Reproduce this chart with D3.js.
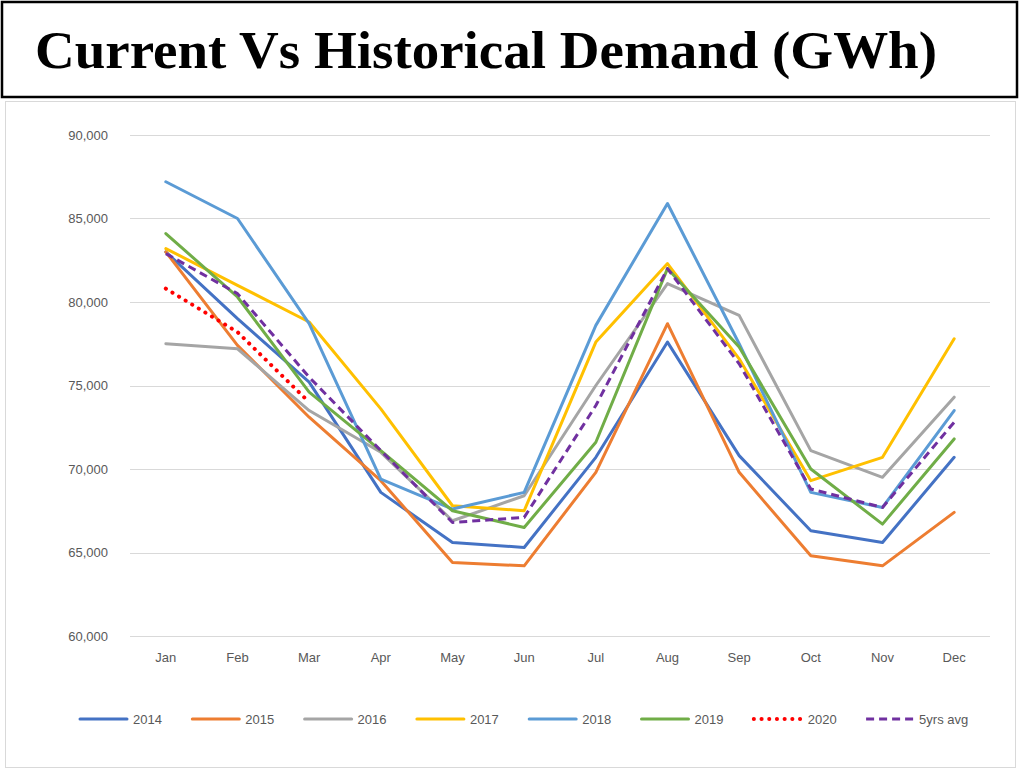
<!DOCTYPE html>
<html>
<head>
<meta charset="utf-8">
<script src="https://d3js.org/d3.v7.min.js"></script>
<style>
  body { margin: 0; background: #fff; }
  svg { display: block; }
</style>
</head>
<body>
<div id="chart"></div>
<script>
// months on the x axis
const months = ["Jan","Feb","Mar","Apr","May","Jun","Jul","Aug","Sep","Oct","Nov","Dec"];
const yTicks = [60000, 65000, 70000, 75000, 80000, 85000, 90000];

// demand in GWh
const y2014 = [83000, 79000, 75200, 68600, 65600, 65300, 70700, 77600, 70800, 66300, 65600, 70700];
const y2015 = [83000, 77400, 73100, 69300, 64400, 64200, 69800, 78700, 69800, 64800, 64200, 67400];
const y2016 = [77500, 77200, 73500, 71000, 66900, 68400, 75000, 81100, 79200, 71100, 69500, 74300];
const y2017 = [83200, 81000, 78800, 73600, 67800, 67500, 77600, 82300, 76600, 69300, 70700, 77800];
const y2018 = [87200, 85000, 78700, 69400, 67600, 68600, 78600, 85900, 77500, 68600, 67700, 73500];
const y2019 = [84100, 80300, 74600, 71100, 67500, 66500, 71600, 82000, 77300, 70000, 66700, 71800];
const y2020 = [80800, 78200, 74000];
const avg5 = [82900, 80500, 75500, 71100, 66800, 67100, 73800, 82000, 76300, 68800, 67700, 72800];

const series = [
  {name: "2014", values: y2014, color: "#4472C4"},
  {name: "2015", values: y2015, color: "#ED7D31"},
  {name: "2016", values: y2016, color: "#A5A5A5"},
  {name: "2017", values: y2017, color: "#FFC000"},
  {name: "2018", values: y2018, color: "#5B9BD5"},
  {name: "2019", values: y2019, color: "#70AD47"},
  {name: "2020", values: y2020, color: "#FF0000", dash: "0.1 7.6", cap: "round", w: 4},
  {name: "5yrs avg", values: avg5, color: "#7030A0", dash: "8 5", cap: "butt"}
];

const W = 1021, H = 770;
const svg = d3.select("#chart").append("svg")
    .attr("width", W).attr("height", H);

// title box
svg.append("rect")
    .attr("x", 2).attr("y", 2).attr("width", 1015).attr("height", 95)
    .attr("fill", "#fff").attr("stroke", "#000").attr("stroke-width", 2.5);
svg.append("text")
    .attr("x", 35).attr("y", 68)
    .attr("font-family", "Liberation Serif, Times New Roman, serif")
    .attr("font-weight", "bold").attr("font-size", 52)
    .attr("textLength", 902).attr("lengthAdjust", "spacingAndGlyphs")
    .text("Current Vs Historical Demand (GWh)");

// chart area frame
svg.append("rect")
    .attr("x", 5.5).attr("y", 101.5).attr("width", 1010).attr("height", 666)
    .attr("fill", "#fff").attr("stroke", "#D9D9D9").attr("stroke-width", 1);

const x = d3.scaleBand().domain(months).range([130, 990]);
const y = d3.scaleLinear().domain([60000, 90000]).range([636, 135]);

// gridlines
svg.append("g")
  .selectAll("line")
  .data(yTicks)
  .join("line")
    .attr("x1", 130).attr("x2", 990)
    .attr("y1", d => Math.round(y(d)) + 0.5)
    .attr("y2", d => Math.round(y(d)) + 0.5)
    .attr("stroke", "#D9D9D9").attr("stroke-width", 1);

// y axis labels
const fmt = d3.format(",");
svg.append("g")
  .selectAll("text")
  .data(yTicks)
  .join("text")
    .attr("x", 108).attr("y", d => y(d))
    .attr("dy", "0.35em").attr("text-anchor", "end")
    .attr("font-family", "Liberation Sans, Arial, sans-serif")
    .attr("font-size", 13).attr("fill", "#595959")
    .text(d => fmt(d));

// x axis labels
svg.append("g")
  .selectAll("text")
  .data(months)
  .join("text")
    .attr("x", d => x(d) + x.bandwidth() / 2).attr("y", 662)
    .attr("text-anchor", "middle")
    .attr("font-family", "Liberation Sans, Arial, sans-serif")
    .attr("font-size", 13).attr("fill", "#595959")
    .text(d => d);

const line = d3.line()
    .x((d, i) => x(months[i]) + x.bandwidth() / 2)
    .y(d => y(d));

svg.append("g")
  .selectAll("path")
  .data(series)
  .join("path")
    .attr("d", d => line(d.values))
    .attr("fill", "none")
    .attr("stroke", d => d.color)
    .attr("stroke-width", d => d.w || 3)
    .attr("stroke-linejoin", "round")
    .attr("stroke-linecap", d => d.cap || "round")
    .attr("stroke-dasharray", d => d.dash || null);

// legend
const leg = svg.append("g")
  .selectAll("g")
  .data(series)
  .join("g")
    .attr("transform", (d, i) => `translate(${80 + i * 112.3},719)`);
leg.append("line")
    .attr("x1", 0).attr("x2", 47).attr("y1", 0).attr("y2", 0)
    .attr("stroke", d => d.color)
    .attr("stroke-width", d => d.w || 3)
    .attr("stroke-linecap", d => d.cap || "round")
    .attr("stroke-dasharray", d => d.dash || null);
leg.append("text")
    .attr("x", d => d.name === "2020" ? 54 : 53).attr("y", 0).attr("dy", "0.35em")
    .attr("font-family", "Liberation Sans, Arial, sans-serif")
    .attr("font-size", 13).attr("fill", "#595959")
    .text(d => d.name);
</script>
</body>
</html>
